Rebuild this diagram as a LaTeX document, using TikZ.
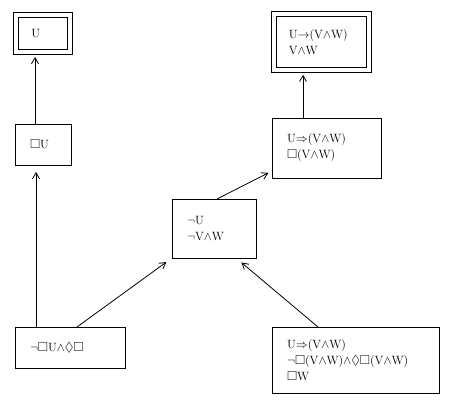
\documentclass[tikz,border=0pt]{standalone}
\usepackage{amssymb}
\usetikzlibrary{arrows.meta}

\begin{document}
\begin{tikzpicture}[
    x=1pt,y=-1pt,
    box/.style = { draw,line width=0.8pt,align=left,inner xsep=+15pt,inner ysep=+2pt,outer sep=+0pt,font=\fontsize{13}{16}\selectfont },
    goal/.style = { box,double,double distance=+4.2pt },
    arrowstyle/.style = { -{Straight Barb[length=6pt,width=7pt]},line width=0.8pt }
    ]
    \useasboundingbox (0,0) rectangle (463,411);
    % Definitions
    \coordinate (tgU)  at ( 43,  33.5);
    \coordinate (boxU) at ( 43, 144.5);
    \coordinate (tgR)  at (321.5, 42  );
    \coordinate (impl) at (326.5,148  );
    \coordinate (neg)  at (214, 228.5);
    \coordinate (hyp)  at ( 70, 347.5);
    \coordinate (prem) at (355.5,360  );
    % Nodes
    \node(T1) at (tgU)  [goal,text width=23.5pt,minimum height=37pt]  {$\mathrm{U}$};
    \node(B1) at (boxU) [box,text width=26pt,minimum height=41pt]     {$\Box\mathrm{U}$};
    \node(T2) at (tgR)  [goal,text width=65.5pt,minimum height=55.5pt] {$\mathrm{U{\rightarrow}(V{\wedge}W)}$\\$\mathrm{V{\wedge}W}$};
    \node(I2) at (impl) [box,text width=79pt,minimum height=60pt]     {$\mathrm{U{\Rightarrow}(V{\wedge}W)}$\\$\Box\mathrm{(V{\wedge}W)}$};
    \node(N)  at (neg)  [box,text width=54pt,minimum height=59pt]     {$\neg\mathrm{U}$\\$\neg\mathrm{V{\wedge}W}$};
    \node(L)  at (hyp)  [box,text width=80pt,minimum height=41pt]     {$\neg\Box\mathrm{U}{\wedge}\Diamond\Box$};
    \node(P)  at (prem) [box,text width=137pt,minimum height=66pt]    {$\mathrm{U{\Rightarrow}(V{\wedge}W)}$\\$\neg\Box\mathrm{(V{\wedge}W)}{\wedge}\Diamond\Box\mathrm{(V{\wedge}W)}$\\$\Box\mathrm{W}$};
    % Arrows
    \draw[arrowstyle,shorten >=+7pt] ([xshift=-34pt]L.north)   -- ([xshift=-7pt]B1.south);
    \draw[arrowstyle,shorten >=+5pt] ([xshift=-8pt]B1.north)   -- ([xshift=-8pt]T1.south);
    \draw[arrowstyle,shorten >=+5pt] ([xshift=-23.5pt]I2.north) -- ([xshift=-18.5pt]T2.south);
    \draw[arrowstyle,shorten >=+4pt] ([xshift=3pt]N.north)     -- ([yshift=7pt]I2.south west);
    \draw[arrowstyle,shorten >=+7pt] ([xshift=7pt]L.north)     -- (N.south west);
    \draw[arrowstyle,shorten >=+7pt] ([xshift=-37.5pt]P.north) -- ([xshift=22pt]N.south);
\end{tikzpicture}
\end{document}
